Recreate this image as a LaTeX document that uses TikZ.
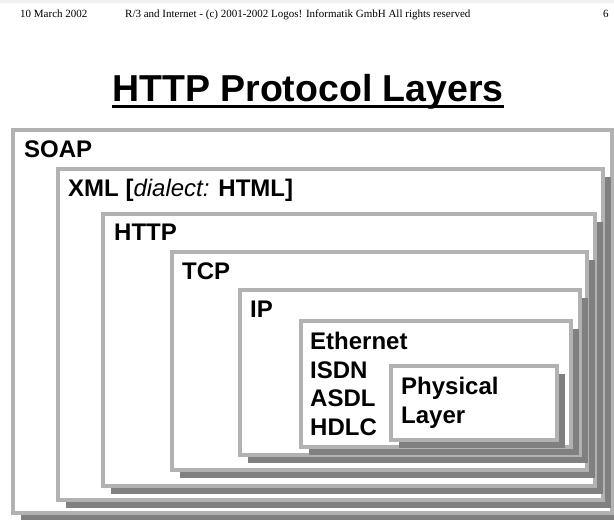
\documentclass[tikz,border=0pt]{standalone}
\usepackage{fontspec}
\setmainfont{Liberation Sans}
\newfontfamily\hdrfont{Liberation Serif}
\usetikzlibrary{positioning,shadows,calc}

\begin{document}
\begin{tikzpicture}[x=1pt, y=-1pt,
    layer/.style={draw=black!30, line width=3.5pt, fill=white, anchor=north west, inner sep=0pt,
      drop shadow={shadow xshift=8pt, shadow yshift=-8pt, fill=black!50, opacity=1}},
    lbl/.style={font=\fontsize{24}{28.5}\selectfont\bfseries, inner sep=0pt, align=left},
    hdr/.style={font=\hdrfont\fontsize{11}{13}\selectfont, inner sep=0pt, anchor=base west}]
  \path[fill=white] (0,0) rectangle (614,520);
  \useasboundingbox (0,0) rectangle (614,520);
  \fill[black!6] (0,0) rectangle (614,3);
  % page header
  \node[hdr] (date) at (20,17) {10 March 2002};
  \node[hdr] (copy) at (125,17) {R/3 and Internet - (c) 2001-2002 Logos! Informatik GmbH All rights reserved};
  \node[hdr] (page) at (603,17) {6};
  % title
  \node[font=\fontsize{37.5}{40}\selectfont\bfseries, inner sep=0pt, anchor=base] (title) at (308,101) {HTTP Protocol Layers};
  \draw[line width=3pt] ($(title.base west)+(0,5)$) -- ($(title.base east)+(0,5)$);
  % nested layers, outermost first
  \node[layer, minimum width=599pt, minimum height=383pt] (soap) at (11,128) {};
  \node[lbl, below right=13pt and 13pt of soap.north west] (soapl) {SOAP};
  \node[layer, minimum width=545pt, minimum height=331pt] (xml) at (56,167) {};
  \node[lbl, below right=12pt and 12pt of xml.north west] (xmll) {XML [\textmd{\itshape dialect:} HTML]};
  \node[layer, minimum width=492pt, minimum height=272pt] (http) at (101,212) {};
  \node[lbl, below right=12pt and 13pt of http.north west] (httpl) {HTTP};
  \node[layer, minimum width=415pt, minimum height=218pt] (tcp) at (170,250) {};
  \node[lbl, below right=13pt and 12pt of tcp.north west] (tcpl) {TCP};
  \node[layer, minimum width=340pt, minimum height=165pt] (ip) at (238,288) {};
  \node[lbl, below right=13pt and 12pt of ip.north west] (ipl) {IP};
  \node[layer, minimum width=270pt, minimum height=126pt] (eth) at (299,319) {};
  \node[lbl, below right=13pt and 11pt of eth.north west] (ethl) {Ethernet\\ ISDN\\ ASDL\\ HDLC};
  \node[layer, minimum width=166pt, minimum height=74pt] (phys) at (389,364) {};
  \node[lbl, below right=13pt and 12pt of phys.north west] (physl) {Physical\\ Layer};
\end{tikzpicture}
\end{document}
